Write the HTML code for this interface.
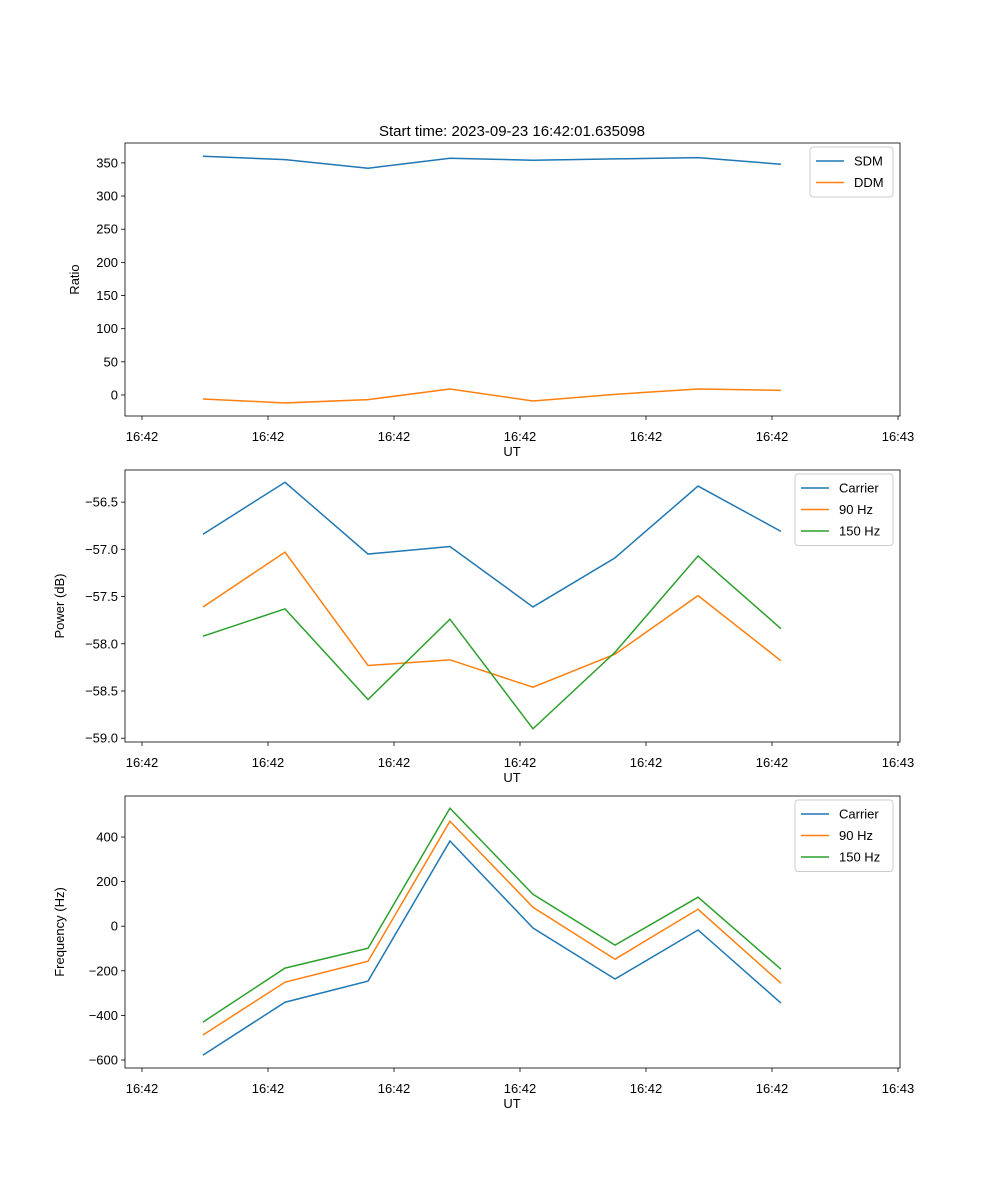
<!DOCTYPE html>
<html><head><meta charset="utf-8"><style>body{margin:0;background:#fff}svg{display:block}text{font-family:"Liberation Sans","DejaVu Sans",sans-serif;fill:#000}</style></head>
<body>
<svg id="fig" width="1000" height="1200" xmlns="http://www.w3.org/2000/svg">
<text x="512" y="136" font-size="15" text-anchor="middle">Start time: 2023-09-23 16:42:01.635098</text>
</svg>
<script>
const xPos=[0.484,1.135,1.794,2.444,3.103,3.754,4.413,5.071];
const xTicks=[0,1,2,3,4,5,6];
const xTickLabels=["16:42","16:42","16:42","16:42","16:42","16:42","16:43"];
const sdm=[360,355,342,357,354,356,358,348];
const ddm=[-6,-12,-7,9,-9,1,9,7];
const pCarrier=[-56.84,-56.29,-57.05,-56.97,-57.61,-57.09,-56.33,-56.81];
const p90=[-57.61,-57.03,-58.23,-58.17,-58.46,-58.11,-57.49,-58.18];
const p150=[-57.92,-57.63,-58.59,-57.74,-58.90,-58.09,-57.07,-57.84];
const fCarrier=[-578,-341,-246,382,-8,-237,-17,-345];
const f90=[-488,-251,-157,471,85,-148,76,-256];
const f150=[-430,-188,-99,529,143,-85,130,-193];
const ticks1=[0,50,100,150,200,250,300,350];
const ticks2=[-59.0,-58.5,-58.0,-57.5,-57.0,-56.5];
const ticks3=[-600,-400,-200,0,200,400];
const C=["#1f77b4","#ff7f0e","#2ca02c"];
const NS="http://www.w3.org/2000/svg",svg=document.getElementById('fig');
function mk(t,a,p){const e=document.createElementNS(NS,t);for(const k in a)e.setAttribute(k,a[k]);(p||svg).appendChild(e);return e;}
const X0=125,X1=900,sx=t=>142+t*126;
function panel(name,top,bot,vTop,vBot,ticks,fmt,ylabel,series,labels,legW){
 const g=mk('g',{});
 
 
 const sy=v=>top+(vTop-v)/(vTop-vBot)*(bot-top);
 ticks.forEach(v=>{const y=sy(v);
  mk('line',{x1:X0-4,x2:X0,y1:y,y2:y,stroke:'#000','stroke-width':0.8},g);
  const t=mk('text',{x:X0-7,y:y+4.5,'font-size':13,'text-anchor':'end'},g);t.textContent=fmt(v);
  });
 xTicks.forEach((v,i)=>{const x=sx(v);
  mk('line',{x1:x,x2:x,y1:bot,y2:bot+4,stroke:'#000','stroke-width':0.8},g);
  const t=mk('text',{x:x,y:bot+25,'font-size':13,'text-anchor':'middle'},g);t.textContent=xTickLabels[i];
  });
 const xl=mk('text',{x:512,y:bot+40,'font-size':13,'text-anchor':'middle'},g);xl.textContent='UT';
 
 const cy=(top+bot)/2,yx=name==='ratio'?79:64;
 const yl=mk('text',{x:yx,y:cy,'font-size':13,'text-anchor':'middle',transform:`rotate(-90 ${yx} ${cy})`},g);yl.textContent=ylabel;
 
 series.forEach((s,k)=>{const p=mk('polyline',{points:s.map((v,i)=>sx(xPos[i])+','+sy(v)).join(' '),fill:'none',stroke:C[k],'stroke-width':1.5},g);
  });
 mk('rect',{x:X0,y:top,width:X1-X0,height:bot-top,fill:'none',stroke:'#000','stroke-width':0.8},g);
 const lx=893-legW,ly=top+4,lg=mk('g',{},g);
 
 mk('rect',{x:lx,y:ly,width:legW,height:labels.length*21.5+7,rx:3,fill:'#fff','fill-opacity':0.8,stroke:'#ccc'},lg);
 labels.forEach((l,k)=>{const y=ly+14+k*21.5;
  mk('line',{x1:lx+6,x2:lx+34,y1:y,y2:y,stroke:C[k],'stroke-width':1.5},lg);
  const t=mk('text',{x:lx+44,y:y+4.5,'font-size':13},lg);t.textContent=l;
  });
}
panel('ratio',143,416,380,-31.7,ticks1,v=>v.toString().replace('-','\u2212'),'Ratio',[sdm,ddm],['SDM','DDM'],83);
panel('power',470,742,-56.16,-59.04,ticks2,v=>v.toFixed(1).replace('-','\u2212'),'Power (dB)',[pCarrier,p90,p150],['Carrier','90 Hz','150 Hz'],98);
panel('frequency',796,1068,584,-636,ticks3,v=>v.toString().replace('-','\u2212'),'Frequency (Hz)',[fCarrier,f90,f150],['Carrier','90 Hz','150 Hz'],98);
</script>
</body></html>
